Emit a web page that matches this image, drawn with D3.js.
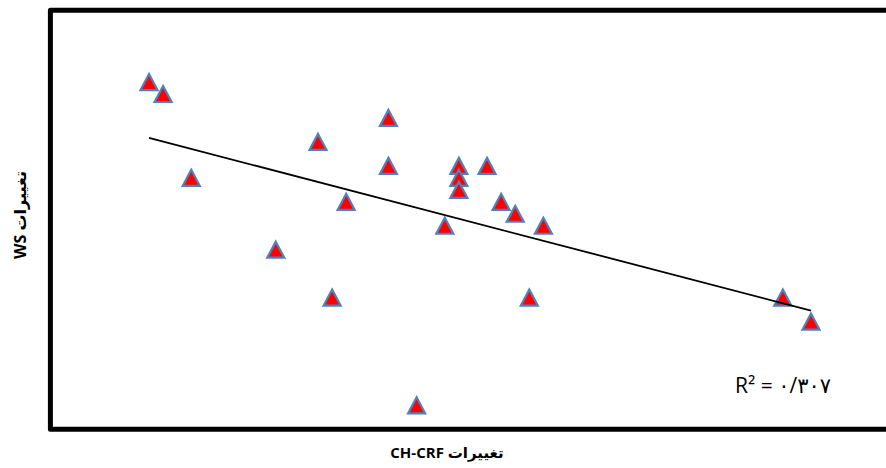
<!DOCTYPE html>
<html>
<head>
<meta charset="utf-8">
<script src="https://cdn.jsdelivr.net/npm/d3@7"></script>
<style>
    body { margin: 0; background: #fff; }
</style>
</head>
<body>
<div id="chart"></div>
<script>
// changes in CH-CRF (x) and WS (y) for each station
const chCrf = [7, 8, 10, 16, 19, 20, 21, 24, 24, 26, 28, 29, 29, 29, 31, 32, 33, 34, 35, 52, 54];
const ws = [29, 28, 21, 15, 24, 11, 19, 26, 22, 2, 17, 22, 21, 20, 22, 19, 18, 11, 17, 11, 9];

// axis ranges (axes themselves are hidden in the original)
const xDomain = [0, 60];
const yDomain = [0, 35];

const xLabel = "تغییرات CH-CRF";
const yLabel = "تغییرات WS";
// R² as printed on the chart (persian digits, "/" as decimal mark)
const r2Label = "R² = ۰/۳۰۷";

const width = 886;
const height = 468;

function ScatterChart() {
    const data = chCrf.map((x, i) => ({x: x, y: ws[i]}));

    const xScale = d3.scaleLinear().domain(xDomain).range([50.4, 895.5]);
    const yScale = d3.scaleLinear().domain(yDomain).range([429.3, 10.2]);

    // least squares fit
    const mx = d3.mean(chCrf);
    const my = d3.mean(ws);
    const sxy = d3.sum(data, d => (d.x - mx) * (d.y - my));
    const sxx = d3.sum(data, d => (d.x - mx) ** 2);
    const slope = sxy / sxx;
    const intercept = my - slope * mx;

    const svg = d3.create("svg")
        .attr("width", width)
        .attr("height", height)
        .attr("viewBox", [0, 0, width, height]);

    // plot area border
    svg.append("rect")
        .attr("x", xScale(xDomain[0]))
        .attr("y", yScale(yDomain[1]))
        .attr("width", xScale(xDomain[1]) - xScale(xDomain[0]))
        .attr("height", yScale(yDomain[0]) - yScale(yDomain[1]))
        .attr("fill", "none")
        .attr("stroke", "#000")
        .attr("stroke-width", 5)
        .attr("stroke-linejoin", "round");

    // triangles
    const w = 17, h = 16;
    svg.append("g")
        .selectAll("path")
        .data(data)
        .join("path")
        .attr("d", d => {
            const cx = xScale(d.x), cy = yScale(d.y);
            return `M${cx},${cy - h / 2}L${cx + w / 2},${cy + h / 2}L${cx - w / 2},${cy + h / 2}Z`;
        })
        .attr("fill", "#ff0000")
        .attr("stroke", "#4f81bd")
        .attr("stroke-width", 2.2);

    // trend line
    const [xMin, xMax] = d3.extent(chCrf);
    svg.append("line")
        .attr("x1", xScale(xMin))
        .attr("y1", yScale(intercept + slope * xMin))
        .attr("x2", xScale(xMax))
        .attr("y2", yScale(intercept + slope * xMax))
        .attr("stroke", "#000")
        .attr("stroke-width", 1.8);

    // R² label
    svg.append("text")
        .attr("x", 735)
        .attr("y", 393)
        .attr("font-family", "'Open Sans', 'DejaVu Sans', sans-serif")
        .attr("font-size", 21)
        .attr("fill", "#000")
        .text(r2Label);

    // x-axis label
    svg.append("text")
        .attr("x", 447)
        .attr("y", 458)
        .attr("direction", "rtl")
        .attr("text-anchor", "middle")
        .attr("font-family", "'Open Sans', 'DejaVu Sans', sans-serif")
        .attr("font-weight", "bold")
        .attr("font-size", 15)
        .attr("fill", "#000")
        .text(xLabel);

    // y-axis label
    svg.append("text")
        .attr("transform", `translate(26, 215) rotate(-90)`)
        .attr("direction", "rtl")
        .attr("text-anchor", "middle")
        .attr("font-family", "'Open Sans', 'DejaVu Sans', sans-serif")
        .attr("font-weight", "bold")
        .attr("font-size", 16)
        .attr("fill", "#000")
        .text(yLabel);

    return svg.node();
}

document.getElementById("chart").appendChild(ScatterChart());
</script>
</body>
</html>
